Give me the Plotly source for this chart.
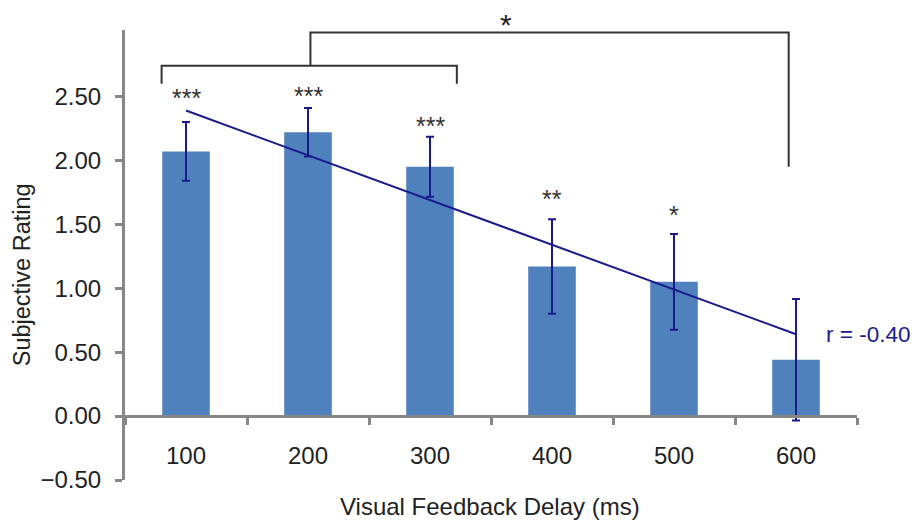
import plotly.graph_objects as go

# ---- data ----
delays = ["100", "200", "300", "400", "500", "600"]
means = [2.07, 2.22, 1.95, 1.17, 1.05, 0.44]
errors = [0.23, 0.19, 0.235, 0.37, 0.375, 0.475]
sig_labels = ["***", "***", "***", "**", "*"]
sig_y = [2.49, 2.50, 2.27, 1.70, 1.575]
trend_x = ["100", "600"]
trend_y = [2.39, 0.64]
r_label = "r = -0.40"
y_ticks = [-0.5, 0.0, 0.5, 1.0, 1.5, 2.0, 2.5]

BAR = "#4F81BD"
NAVY = "#1A1A8E"
AXIS = "#878787"
FONT = "Liberation Sans, Arial, sans-serif"
Y_MIN, Y_MAX = -0.5, 3.02

fig = go.Figure()
fig.add_trace(go.Bar(
    x=delays, y=means, marker=dict(color=BAR, line=dict(width=0)),
    error_y=dict(type="data", array=errors, color=NAVY, thickness=2, width=4),
    showlegend=False,
))
fig.add_trace(go.Scatter(
    x=trend_x, y=trend_y, mode="lines", line=dict(color=NAVY, width=2),
    showlegend=False,
))

annotations = []
for i, (lab, yy) in enumerate(zip(sig_labels, sig_y)):
    annotations.append(dict(x=i, y=yy, xref="x", yref="y", text=lab, showarrow=False,
                            font=dict(size=25, color="#333333", family=FONT),
                            xanchor="center", yanchor="middle"))
annotations.append(dict(x=5.23, y=trend_y[-1], xref="x", yref="y", text=r_label,
                        showarrow=False, xanchor="left", yanchor="middle",
                        font=dict(size=22.5, color=NAVY, family=FONT)))
annotations.append(dict(x=2.62, y=1.0133, xref="x", yref="paper", text="*", showarrow=False,
                        xanchor="center", yanchor="middle",
                        font=dict(size=30, color="#222222", family=FONT)))
annotations.append(dict(x=-0.1403, y=0.4556, xref="paper", yref="paper",
                        text="Subjective Rating", textangle=-90, showarrow=False,
                        xanchor="center", yanchor="middle",
                        font=dict(size=23.5, color="#222222", family=FONT)))
annotations.append(dict(x=0.4986, y=-0.058, xref="paper", yref="paper",
                        text="Visual Feedback Delay (ms)", showarrow=False,
                        xanchor="center", yanchor="middle",
                        font=dict(size=24, color="#222222", family=FONT)))

BR = dict(color="#333333", width=2)
shapes = [
    # bracket 100-300
    dict(type="path", xref="x", yref="y",
         path="M -0.2,2.60 L -0.2,2.74 L 2.22,2.74 L 2.22,2.60", line=BR),
    # bracket from group to 600
    dict(type="path", xref="x", yref="y",
         path="M 1.02,2.74 L 1.02,3.0 L 4.94,3.0 L 4.94,1.95", line=BR),
]

# the page body adds an 8px margin on every side: keep the figure inside the window
fig.update_layout(
    width=903, height=514,
    margin=dict(l=117, r=54, t=22, b=42),
    paper_bgcolor="white", plot_bgcolor="white",
    bargap=0.61,
    font=dict(family=FONT, size=24, color="#222222"),
    annotations=annotations, shapes=shapes,
    xaxis=dict(
        type="category", range=[-0.5, 5.5], automargin=False,
        anchor="free", position=(0 - Y_MIN) / (Y_MAX - Y_MIN),
        showline=True, linecolor=AXIS, linewidth=3,
        ticks="outside", tickson="boundaries", ticklen=7, tickwidth=3, tickcolor=AXIS,
        showgrid=False, zeroline=False, ticklabelstandoff=17,
        tickfont=dict(size=24, color="#222222", family=FONT),
    ),
    yaxis=dict(
        range=[Y_MIN, Y_MAX], tickvals=y_ticks, tickformat=".2f", automargin=False,
        showline=True, linecolor=AXIS, linewidth=3,
        ticks="outside", ticklen=7, tickwidth=3, tickcolor=AXIS,
        showgrid=False, zeroline=False, ticklabelstandoff=9,
        tickfont=dict(size=24, color="#222222", family=FONT),
    ),
)

fig.write_html("out.html")
